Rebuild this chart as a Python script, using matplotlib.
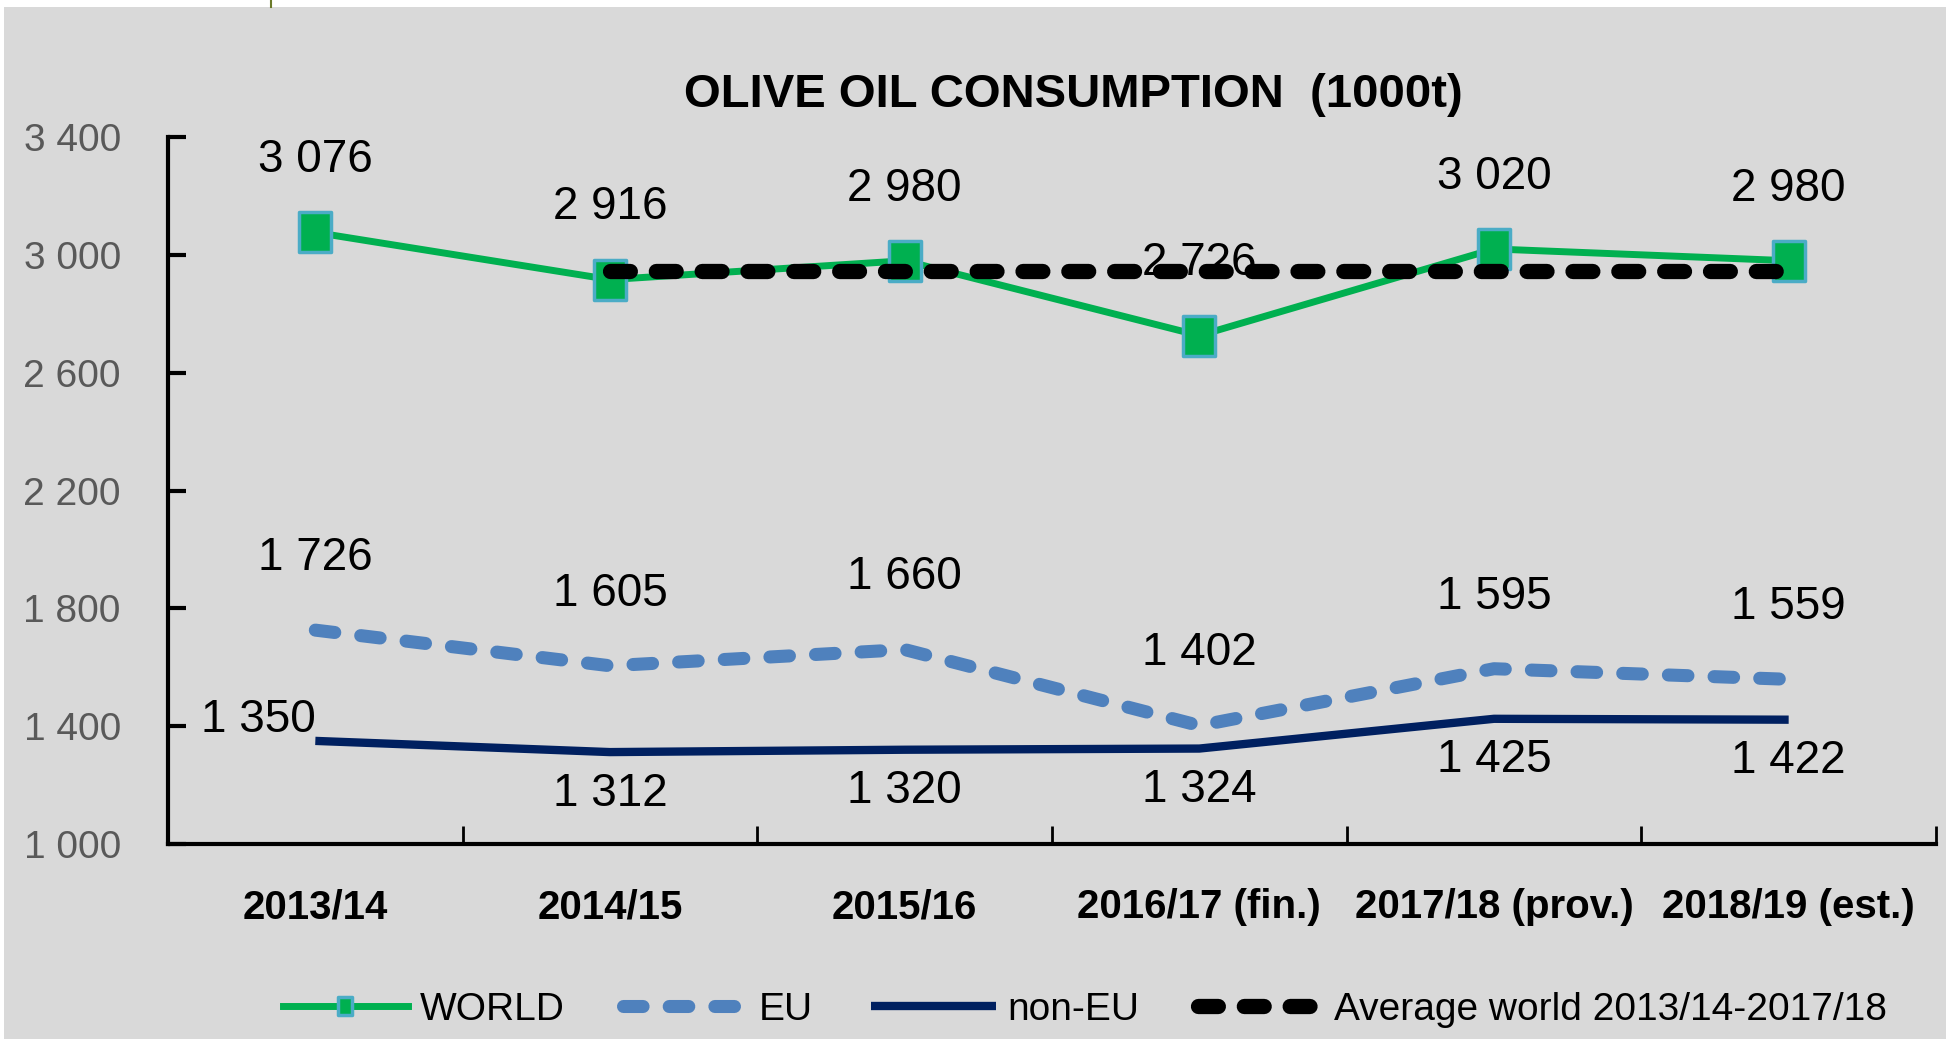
import numpy as np
import matplotlib.pyplot as plt
from matplotlib.path import Path
from matplotlib.patches import Rectangle
from matplotlib.lines import Line2D

plt.rcParams['font.family'] = ['Liberation Sans', 'DejaVu Sans']

# ---- data ----
seasons = ["2013/14", "2014/15", "2015/16", "2016/17 (fin.)", "2017/18 (prov.)", "2018/19 (est.)"]
world = [3076, 2916, 2980, 2726, 3020, 2980]
eu = [1726, 1605, 1660, 1402, 1595, 1559]
non_eu = [1350, 1312, 1320, 1324, 1425, 1422]
avg_world = 2944  # average world 2013/14-2017/18
avg_from = 1      # average line drawn from 2014/15 to 2018/19

yticks = [1000, 1400, 1800, 2200, 2600, 3000, 3400]

W, H = 1946, 1039
fig = plt.figure(figsize=(W / 100, H / 100), dpi=100, facecolor="#d9d9d9")
# white strips at top / left, like the cropped screenshot
fig.patches.append(Rectangle((0, 1 - 7 / H), 1, 7 / H, transform=fig.transFigure,
                             facecolor="white", edgecolor="none", zorder=0))
fig.patches.append(Rectangle((0, 0), 4 / W, 1, transform=fig.transFigure,
                             facecolor="white", edgecolor="none", zorder=0))
fig.lines.append(Line2D([271 / W, 271 / W], [1, 1 - 7 / H], transform=fig.transFigure,
                        color="#6b7a2a", lw=1.5))

ax = fig.add_axes([168 / W, 1 - 844 / H, (1936 - 168) / W, (844 - 137) / H])
ax.set_facecolor("#d9d9d9")

x = np.arange(len(seasons))

# tall square marker
rect = Path([(-0.82, -1), (0.82, -1), (0.82, 1), (-0.82, 1), (-0.82, -1)],
            [Path.MOVETO, Path.LINETO, Path.LINETO, Path.LINETO, Path.CLOSEPOLY])

ax.plot(x, world, color="#00b050", lw=5, marker=rect, markersize=28.5,
        markerfacecolor="#00b050", markeredgecolor="#4bacc6", markeredgewidth=2.5,
        label="WORLD", zorder=3)
ax.plot(x, eu, color="#4f81bd", lw=9.4, linestyle=(0, (1.5, 2.0)),
        dash_capstyle="round", label="EU", zorder=3)
ax.plot(x, non_eu, color="#002060", lw=6, solid_capstyle="butt", label="non-EU", zorder=3)
xa = x[avg_from:]
ax.plot(xa, [avg_world] * len(xa), color="black", lw=11, linestyle=(0, (1.3, 1.7)),
        dash_capstyle="round", label="Average world 2013/14-2017/18", zorder=4)

def fmt(v):
    return f"{v:,}".replace(",", " ")

lab_kw = dict(fontsize=33, color="black", zorder=5)
for xi, v in zip(x, world):
    ax.annotate(fmt(v), (xi, v), xytext=(0, 52), textcoords="offset points",
                ha="center", va="center", **lab_kw)
for xi, v in zip(x, eu):
    ax.annotate(fmt(v), (xi, v), xytext=(0, 52), textcoords="offset points",
                ha="center", va="center", **lab_kw)
for i, (xi, v) in enumerate(zip(x, non_eu)):
    if i == 0:
        ax.annotate(fmt(v), (xi, v), xytext=(0, 15), textcoords="offset points",
                    ha="right", va="center", **lab_kw)
    else:
        ax.annotate(fmt(v), (xi, v), xytext=(0, -30), textcoords="offset points",
                    ha="center", va="center", **lab_kw)

ax.set_xlim(-0.5, len(seasons) - 0.5)
ax.set_ylim(yticks[0], yticks[-1])
ax.set_yticks(yticks)
ax.set_yticklabels([fmt(v) for v in yticks])
ax.set_xticks(np.arange(len(seasons) + 1) - 0.5)
ax.set_xticklabels([])
ax.set_xticks(x, minor=True)
ax.set_xticklabels(seasons, minor=True, fontsize=29, fontweight="bold")

ax.tick_params(axis="y", direction="in", length=13, width=3, pad=34,
               labelsize=28, labelcolor="#595959")
ax.tick_params(axis="x", which="major", direction="in", length=13, width=2)
ax.tick_params(axis="x", which="minor", length=0, pad=32)

for s in ["top", "right"]:
    ax.spines[s].set_visible(False)
ax.spines["left"].set_linewidth(3)
ax.spines["bottom"].set_linewidth(3)

fig.text(1073 / W, 1 - 95 / H, "OLIVE OIL CONSUMPTION  (1000t)", ha="center", va="center",
         fontsize=34, fontweight="bold")

handles, labels = ax.get_legend_handles_labels()
fig.legend(handles, labels, loc="center", bbox_to_anchor=(1085 / W, 1 - 1010 / H),
           ncol=4, frameon=False, fontsize=28, handlelength=3.2, handletextpad=0.3,
           columnspacing=1.5, markerscale=0.45)

fig.savefig("out.png", dpi=100, facecolor=fig.get_facecolor())
